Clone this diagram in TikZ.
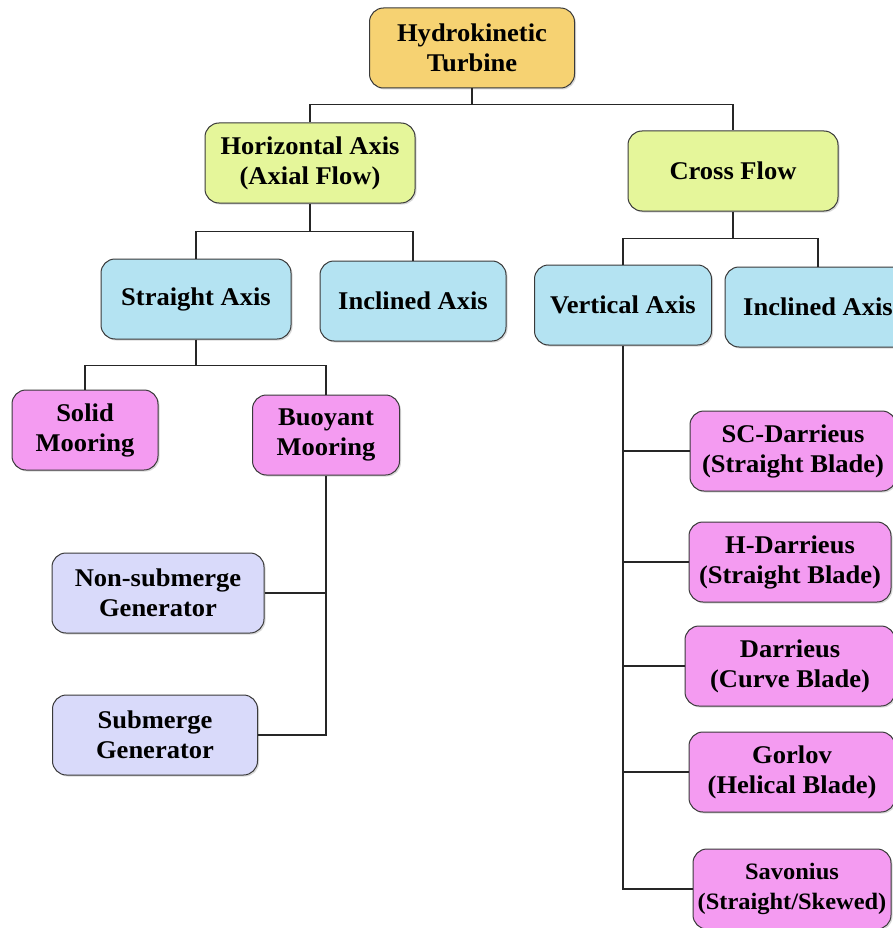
\documentclass[tikz,border=0pt]{standalone}
\usepackage{fontspec}
\setmainfont[FakeStretch=1.04]{Liberation Serif}
\usetikzlibrary{positioning, shadows}
\definecolor{rootgold}{HTML}{F6D272}
\definecolor{limegreen}{HTML}{E5F69A}
\definecolor{skyblue}{HTML}{B4E3F2}
\definecolor{orchid}{HTML}{F49BF1}
\definecolor{lavender}{HTML}{D9DAFA}
\definecolor{edgegray}{HTML}{3A3A3A}
\begin{document}
\begin{tikzpicture}[
    x=1pt, y=-1pt,
    box/.style={draw=edgegray, line width=1pt, rounded corners=14pt, minimum height=80pt,
      align=center, font=\fontsize{25.5}{30}\selectfont\bfseries, inner sep=2pt,
      drop shadow={shadow xshift=1.5pt, shadow yshift=-1.5pt, opacity=0.3}},
    rootbox/.style={box, fill=rootgold},
    axisbox/.style={box, fill=limegreen},
    typebox/.style={box, fill=skyblue},
    rotorbox/.style={box, fill=orchid},
    genbox/.style={box, fill=lavender},
    link/.style={draw=black!85, line width=1.1pt}
  ]
    \clip (0,0) rectangle (893,928);
    \fill[white] (0,0) rectangle (893,928);

    \node[rootbox, minimum width=205pt] (root) at (472,48) {Hydrokinetic\\Turbine};
    \node[axisbox, minimum width=210pt] (horiz) at (310,163) {Horizontal Axis\\(Axial Flow)};
    \node[axisbox, minimum width=210pt] (cross) at (733,171) {Cross Flow};

    \node[typebox, minimum width=190pt] (straight) at (196,299) {Straight Axis};
    \node[typebox, minimum width=186pt] (inclL) at (413,301) {Inclined Axis};
    \node[typebox, minimum width=177pt] (vert) at (623,305) {Vertical Axis};
    \node[typebox, minimum width=186pt] (inclR) at (818,307) {Inclined Axis};

    \node[rotorbox, minimum width=146pt] (solid) at (85,430) {Solid\\Mooring};
    \node[rotorbox, minimum width=147pt] (buoy) at (326,435) {Buoyant\\Mooring};

    \node[genbox, minimum width=212pt] (nonsub) at (158,593) {Non-submerge\\Generator};
    \node[genbox, minimum width=205pt] (sub) at (155,735) {Submerge\\Generator};

    \node[rotorbox, minimum width=206pt] (scd) at (793,451) {SC-Darrieus\\(Straight Blade)};
    \node[rotorbox, minimum width=202pt] (hd) at (790,562) {H-Darrieus\\(Straight Blade)};
    \node[rotorbox, minimum width=210pt] (dar) at (790,666) {Darrieus\\(Curve Blade)};
    \node[rotorbox, minimum width=206pt] (gor) at (792,772) {Gorlov\\(Helical Blade)};
    \node[rotorbox, minimum width=198pt, font=\fontsize{23.5}{30}\selectfont\bfseries] (sav) at (792,889) {Savonius\\(Straight/Skewed)};

    % tree links
    \draw[link] (root.south) -- ++(0,16);
    \draw[link] (horiz.north) |- ([yshift=-16pt]root.south) -| (cross.north);
    \draw[link] (horiz.south) -- ++(0,28);
    \draw[link] (straight.north) |- ([yshift=-28pt]horiz.south) -| (inclL.north);
    \draw[link] (cross.south) -- ++(0,27);
    \draw[link] (vert.north) |- ([yshift=-27pt]cross.south) -| (inclR.north);
    \draw[link] (straight.south) -- ++(0,26);
    \draw[link] (solid.north) |- ([yshift=-26pt]straight.south) -| (buoy.north);

    \draw[link] (buoy.south) |- (sub.east);
    \draw[link] (nonsub.east) -- (nonsub.east -| buoy.south);

    \draw[link] (vert.south) |- (sav.west);
    \foreach \leaf in {scd, hd, dar, gor}
      \draw[link] (vert.south |- \leaf.west) -- (\leaf.west);
\end{tikzpicture}
\end{document}
